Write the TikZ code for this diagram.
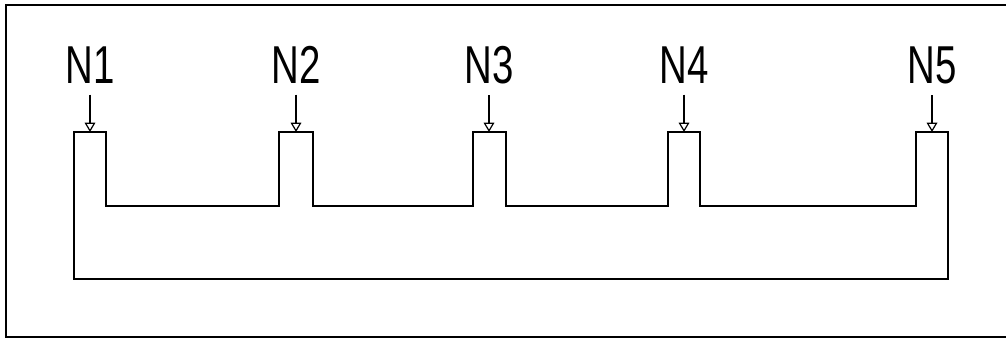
\documentclass[tikz,border=0pt]{standalone}
\usepackage{fontspec}
\setmainfont{Liberation Sans}
\usepackage{graphicx}
\usepackage{tikz}
\usetikzlibrary{arrows.meta}

\begin{document}
\begin{tikzpicture}[
    x=0.75pt, y=-0.75pt,
    lbl/.style={font=\fontsize{40}{42}\selectfont, inner xsep=0pt,
        inner ysep=8pt, outer sep=0pt, anchor=base},
    arr/.style={-{Triangle[open, length=7pt, width=8pt]}, line width=0.9pt},
    pipe/.style={line width=1.1pt, line join=miter},
    frame/.style={line width=1.5pt},
]
\useasboundingbox (0,0) rectangle (1006,338);
% outer frame
\draw[frame] (1012,5) -- (6,5) -- (6,337) -- (1012,337);

% channel outline
\draw[pipe] (74,279) -- (74,132) -- (106,132) -- (106,206) -- (279,206)
    -- (279,132) -- (313,132) -- (313,206) -- (473,206) -- (473,132)
    -- (506,132) -- (506,206) -- (668,206) -- (668,132) -- (700,132)
    -- (700,206) -- (916,206) -- (916,132) -- (948,132) -- (948,279)
    -- cycle;

% inlets
\foreach \i/\x in {1/90, 2/296, 3/489, 4/684, 5/932} {
    \coordinate (t\i) at (\x,132);
    \node[lbl] (lbl\i) at (\x,84) {\scalebox{0.72}[1]{N\i}};
    \draw[arr] (lbl\i.south) -- (t\i);
}
\end{tikzpicture}
\end{document}
